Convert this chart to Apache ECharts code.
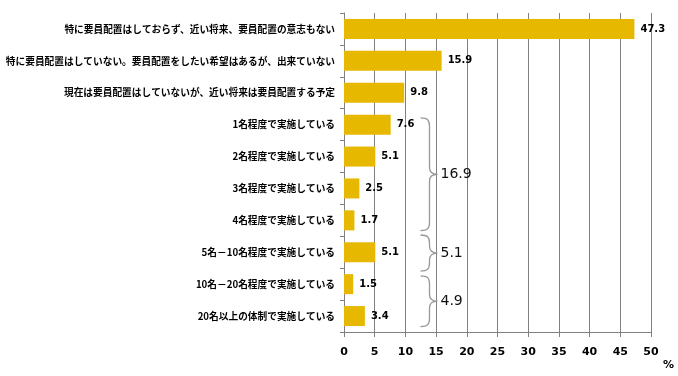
<!DOCTYPE html>
<html>
<head>
<meta charset="utf-8">
<script src="https://cdn.jsdelivr.net/npm/echarts@6/dist/echarts.min.js"></script>
<style>html,body{margin:0;padding:0;background:#fff}#c{width:678px;height:376px}</style>
</head>
<body>
<div id="c"></div>
<script>
const categories = [
  '特に要員配置はしておらず、近い将来、要員配置の意志もない',
  '特に要員配置はしていない。要員配置をしたい希望はあるが、出来ていない',
  '現在は要員配置はしていないが、近い将来は要員配置する予定',
  '1名程度で実施している',
  '2名程度で実施している',
  '3名程度で実施している',
  '4名程度で実施している',
  '5名－10名程度で実施している',
  '10名－20名程度で実施している',
  '20名以上の体制で実施している'
];
const values = [47.3, 15.9, 9.8, 7.6, 5.1, 2.5, 1.7, 5.1, 1.5, 3.4];
const xTicks = [0, 5, 10, 15, 20, 25, 30, 35, 40, 45, 50];
// brace groups: span in category units (top, bottom) and group total
const braceTop = [2.79, 6.46, 7.74];
const braceBottom = [6.32, 7.59, 9.33];
const braceTotals = ['16.9', '5.1', '4.9'];

const chart = echarts.init(document.getElementById('c'));
const braceData = braceTop.map((t, i) => [t, braceBottom[i], braceTotals[i]]);

chart.setOption({
  animation: false,
  title: {
    text: '%', left: 658, top: 355,
    textStyle: {fontSize: 11, fontWeight: 'bold', fontFamily: 'DejaVu Sans', color: '#000'}
  },
  grid: {left: 344, right: 27, top: 13, bottom: 44, outerBoundsMode: 'none', containLabel: false},
  xAxis: {
    type: 'value', min: xTicks[0], max: xTicks[xTicks.length - 1], interval: 5,
    axisLine: {show: true, lineStyle: {color: '#808080'}},
    axisTick: {show: true, length: 5, lineStyle: {color: '#808080'}},
    splitLine: {show: true, lineStyle: {color: '#808080', width: 1}},
    axisLabel: {margin: 15, fontSize: 11, fontWeight: 'bold', fontFamily: 'DejaVu Sans', color: '#000'}
  },
  yAxis: {
    type: 'category', inverse: true, data: categories,
    axisLine: {show: true, lineStyle: {color: '#808080'}},
    axisTick: {show: true, length: 4, lineStyle: {color: '#808080'}},
    axisLabel: {margin: 9, fontSize: 9.7, fontWeight: 'bold', fontFamily: 'Noto Sans CJK JP', color: '#000'}
  },
  series: [{
    type: 'bar', data: values, barWidth: 20,
    itemStyle: {color: '#E6B800'},
    label: {show: true, position: 'right', distance: 6, fontSize: 10, fontWeight: 'bold',
      fontFamily: 'DejaVu Sans', color: '#000',
      formatter: p => p.value.toFixed(1)}
  }, {
    type: 'custom', silent: true, z: 10,
    data: braceData,
    encode: {x: -1, y: -1},
    renderItem: function (params, api) {
      const top0 = api.coord([13.8, 0]);
      const top1 = api.coord([13.8, 1]);
      const band = top1[1] - top0[1];
      const x = Math.round(top0[0]) + 0.5;
      const t = top0[1] + api.value(0) * band;
      const b = top0[1] + api.value(1) * band;
      const m = (t + b) / 2;
      const d = ['M', x - 9, t, 'C', x - 2, t, x, t + 2, x, t + 8,
        'L', x, m - 7, 'C', x, m - 2, x + 3, m, x + 8, m,
        'C', x + 3, m, x, m + 2, x, m + 7,
        'L', x, b - 8, 'C', x, b - 2, x - 2, b, x - 9, b].join(' ');
      return {
        type: 'group',
        children: [{
          type: 'path', shape: {pathData: d},
          style: {fill: 'none', stroke: '#999999', lineWidth: 1.3}
        }, {
          type: 'text',
          style: {text: braceTotals[params.dataIndex], x: x + 11, y: m,
            verticalAlign: 'middle', align: 'left',
            fontSize: 14, fontFamily: 'DejaVu Sans', fill: '#111'}
        }]
      };
    }
  }]
});
</script>
</body>
</html>
